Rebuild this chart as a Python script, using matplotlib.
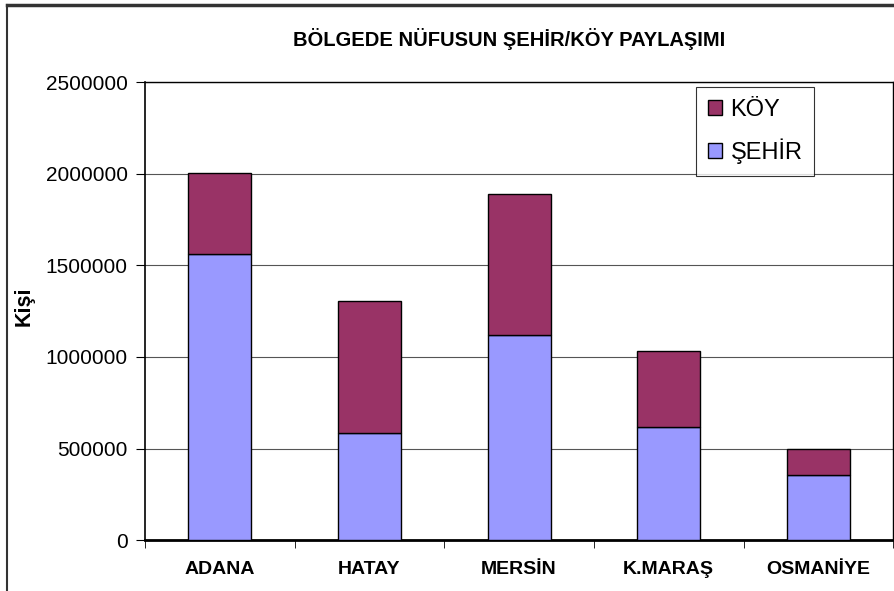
import numpy as np
import matplotlib.pyplot as plt
from matplotlib.lines import Line2D

plt.rcParams['font.family'] = ['Liberation Sans', 'DejaVu Sans']

cities = ['ADANA', 'HATAY', 'MERSİN', 'K.MARAŞ', 'OSMANİYE']
sehir = [1560000, 585000, 1120000, 615000, 355000]
koy = [445000, 720000, 770000, 420000, 145000]
yticks = [0, 500000, 1000000, 1500000, 2000000, 2500000]

fig = plt.figure(figsize=(8.95, 5.91), dpi=100)
ax = fig.add_axes([0.162, 0.086, 0.836, 0.775])

x = np.arange(len(cities))
w = 0.42
ax.bar(x, sehir, w, color='#9999FF', edgecolor='black', linewidth=1.0,
       label='ŞEHİR', zorder=3)
ax.bar(x, koy, w, bottom=sehir, color='#993366', edgecolor='black',
       linewidth=1.0, label='KÖY', zorder=3)

ax.set_xlim(-0.5, len(cities) - 0.5)
ax.set_ylim(0, 2500000)
ax.set_yticks(yticks)
ax.set_yticklabels([str(v) for v in yticks], fontsize=15)
ax.yaxis.grid(True, color='#555555', linewidth=0.8, zorder=0)

# categories centered, tick marks between them
ax.set_xticks(x)
ax.set_xticklabels(cities, fontsize=14, fontweight='bold')
ax.tick_params(axis='x', length=0, pad=15)
ax.set_xticks(np.arange(-0.5, len(cities)), minor=True)
ax.tick_params(axis='x', which='minor', length=6, direction='out')
ax.tick_params(axis='y', length=6.5, direction='out', pad=6)

for s in ax.spines.values():
    s.set_linewidth(1.0)
ax.spines['left'].set_linewidth(1.2)
ax.spines['bottom'].set_linewidth(2.0)

ax.set_ylabel('Kişi', fontsize=15.5, fontweight='bold')
ax.yaxis.set_label_coords(-0.147, 0.511)

fig.text(0.569, 0.934, 'BÖLGEDE NÜFUSUN ŞEHİR/KÖY PAYLAŞIMI', ha='center',
         va='center', fontsize=14.5, fontweight='bold')

handles, labels = ax.get_legend_handles_labels()
leg = ax.legend(handles[::-1], labels[::-1], loc='upper left',
                bbox_to_anchor=(0.737, 0.989), borderaxespad=0, fontsize=17,
                frameon=True, fancybox=False, edgecolor='black',
                handlelength=0.6, handleheight=0.6, handletextpad=0.34,
                labelspacing=0.75, borderpad=0.5)
leg.get_frame().set_linewidth(0.8)

# outer chart border (left and top visible)
fig.add_artist(Line2D([0.008, 0.008], [0, 0.992], transform=fig.transFigure,
                      color='#333333', linewidth=1.5))
fig.add_artist(Line2D([0.008, 1.0], [0.992, 0.992], transform=fig.transFigure,
                      color='#333333', linewidth=2.5))

fig.savefig('out.png', dpi=100)
